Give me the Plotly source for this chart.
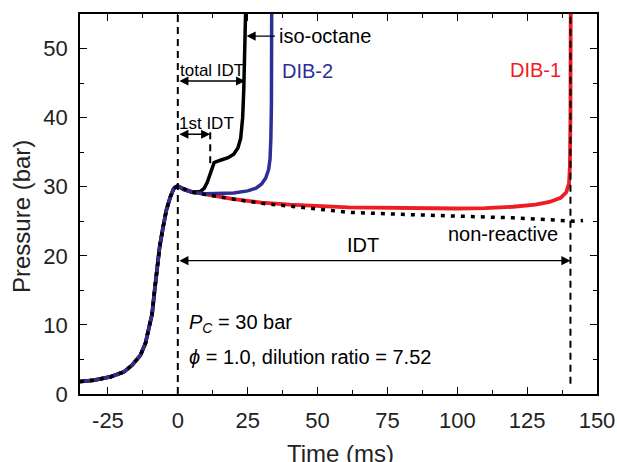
import plotly.graph_objects as go

# ---- data ----
t_compression = [-35, -30, -24, -19.3, -16.3, -13.4, -11.6, -10.4, -9.2, -8.3, -7.4, -6.5, -5.3, -4.1, -2.7, -1.5, -0.6, 0]
p_compression = [1.8, 2.0, 2.5, 3.2, 4.2, 5.6, 7.3, 9.2, 11.6, 15.0, 18.4, 21.3, 24.1, 26.6, 28.5, 29.7, 30.0, 30.1]

t_dib1 = [2, 5, 10, 14, 20, 30, 40, 61, 80, 100, 110, 120, 128, 133, 137, 139, 140, 140.3, 140.5, 140.6]
p_dib1 = [29.7, 29.3, 28.9, 28.6, 28.2, 27.7, 27.4, 27.0, 26.9, 26.85, 26.9, 27.1, 27.4, 27.8, 28.4, 29.2, 30.5, 33, 40, 56]

t_dib2 = [2, 5, 10, 15, 20, 25, 28, 30, 31.5, 32.5, 33, 33.3, 33.5, 33.6]
p_dib2 = [29.6, 29.2, 29.0, 29.0, 29.1, 29.4, 29.8, 30.4, 31.3, 32.5, 34, 37, 42, 56]

t_iso = [2, 5, 8, 9.5, 10.5, 11.5, 12.3, 13, 15, 18, 20, 21.5, 22.5, 23.2, 23.6, 24.0, 24.3]
p_iso = [29.6, 29.2, 29.3, 29.8, 30.6, 31.8, 33.0, 33.5, 33.8, 34.2, 34.7, 35.6, 37, 40, 44, 50, 56]

t_nonreactive = [5, 10, 14, 20, 30, 40, 50, 61, 80, 100, 120, 130, 142, 145]
p_nonreactive = [29.2, 28.8, 28.6, 28.2, 27.6, 27.2, 26.8, 26.3, 26.0, 25.8, 25.5, 25.3, 25.0, 25.1]

first_idt = 11.6
total_idt = 24.4
idt_dib1 = 140.5

x_ticks = [-25, 0, 25, 50, 75, 100, 125, 150]
y_ticks = [0, 10, 20, 30, 40, 50]

RED = "#EE1D23"
BLUE = "#2D2E96"
FONT = "Liberation Sans, Arial, sans-serif"

fig = go.Figure()

def series(tp, pp):
    return t_compression + tp, p_compression + pp

x, y = series(t_dib1, p_dib1)
fig.add_trace(go.Scatter(x=x, y=y, mode="lines", line=dict(color=RED, width=3.8), name="DIB-1"))
x, y = series(t_iso, p_iso)
fig.add_trace(go.Scatter(x=x, y=y, mode="lines", line=dict(color="black", width=3.5), name="iso-octane"))
x, y = series(t_dib2, p_dib2)
fig.add_trace(go.Scatter(x=x, y=y, mode="lines", line=dict(color=BLUE, width=3.5), name="DIB-2"))
x, y = series(t_nonreactive, p_nonreactive)
fig.add_trace(go.Scatter(x=x, y=y, mode="lines", line=dict(color="black", width=3.5, dash="4px,6px"),
                         name="non-reactive"))

# dashed guide lines
dash_style = dict(color="black", width=2, dash="7px,5px")
fig.add_trace(go.Scatter(x=[0, 0], y=[0, 55], mode="lines", line=dash_style))
fig.add_trace(go.Scatter(x=[idt_dib1, idt_dib1], y=[1.5, 55], mode="lines", line=dash_style))
fig.add_trace(go.Scatter(x=[first_idt, first_idt], y=[33.4, 38.2], mode="lines", line=dash_style))

ann = []
def arrow(x0, x1, yv, both=True):
    ann.append(dict(x=x1, y=yv, ax=x0, ay=yv, xref="x", yref="y", axref="x", ayref="y",
                    text="", showarrow=True, arrowhead=2, arrowsize=1.3, arrowwidth=1.4,
                    arrowcolor="black", arrowside="end+start" if both else "end",
                    standoff=0, startstandoff=0, startarrowhead=2, startarrowsize=1.3))

arrow(0, first_idt, 37.6)
arrow(0, total_idt - 0.3, 45.3)
arrow(0, idt_dib1, 19.3)
arrow(35.3, total_idt + 0.2, 51.8, both=False)

def text(x, y, s, color="black", anchor="center", size=20):
    ann.append(dict(x=x, y=y, xref="x", yref="y", text=s, showarrow=False, xanchor=anchor,
                    yanchor="middle", font=dict(size=size, color=color, family=FONT)))

text(35.6, 51.8, "iso-octane", anchor="left")
text(12.2, 46.8, "total IDT", size=17)
text(10.1, 39.2, "1st IDT", size=17)
text(46.5, 46.7, "DIB-2", color=BLUE)
text(127.9, 46.9, "DIB-1", color=RED)
text(136.8, 23.2, "non-reactive", anchor="right")
text(66.2, 21.6, "IDT")
text(3.3, 10.2, "<i>P</i><sub><i>C</i></sub> = 30 bar", anchor="left")
text(3.3, 5.3, "<i>ϕ</i> = 1.0, dilution ratio = 7.52", anchor="left")

# axis titles
ann.append(dict(x=0.503, y=-0.157, xref="paper", yref="paper", text="Time (ms)", showarrow=False,
                xanchor="center", yanchor="middle", font=dict(size=24, family=FONT, color="#222")))
ann.append(dict(x=-0.112, y=0.466, xref="paper", yref="paper", text="Pressure (bar)", showarrow=False,
                textangle=-90, xanchor="center", yanchor="middle",
                font=dict(size=24, family=FONT, color="#222")))

axis_common = dict(showline=True, linecolor="black", linewidth=1.5, mirror="ticks", ticks="inside",
                   ticklen=7, tickwidth=1.3, tickcolor="black", showgrid=False, zeroline=False,
                   automargin=False,
                   tickfont=dict(size=22, family=FONT, color="#222"))

fig.update_layout(
    width=617, height=462,
    margin=dict(l=80, r=20, t=14, b=68),
    paper_bgcolor="white", plot_bgcolor="white",
    showlegend=False,
    annotations=ann,
    xaxis=dict(range=[-35, 150], tickvals=x_ticks, ticktext=[str(v) for v in x_ticks],
               minor=dict(dtick=12.5, tick0=0, ticks="inside", ticklen=4, tickcolor="black", tickwidth=1.2),
               ticklabelstandoff=6, **axis_common),
    yaxis=dict(range=[0, 55], tickvals=y_ticks, ticktext=[str(v) for v in y_ticks],
               minor=dict(dtick=5, tick0=0, ticks="inside", ticklen=4, tickcolor="black", tickwidth=1.2),
               ticklabelstandoff=6, **axis_common),
)

fig.write_html("out.html", config={"displayModeBar": False},
               post_script="document.body.style.margin='0';")
